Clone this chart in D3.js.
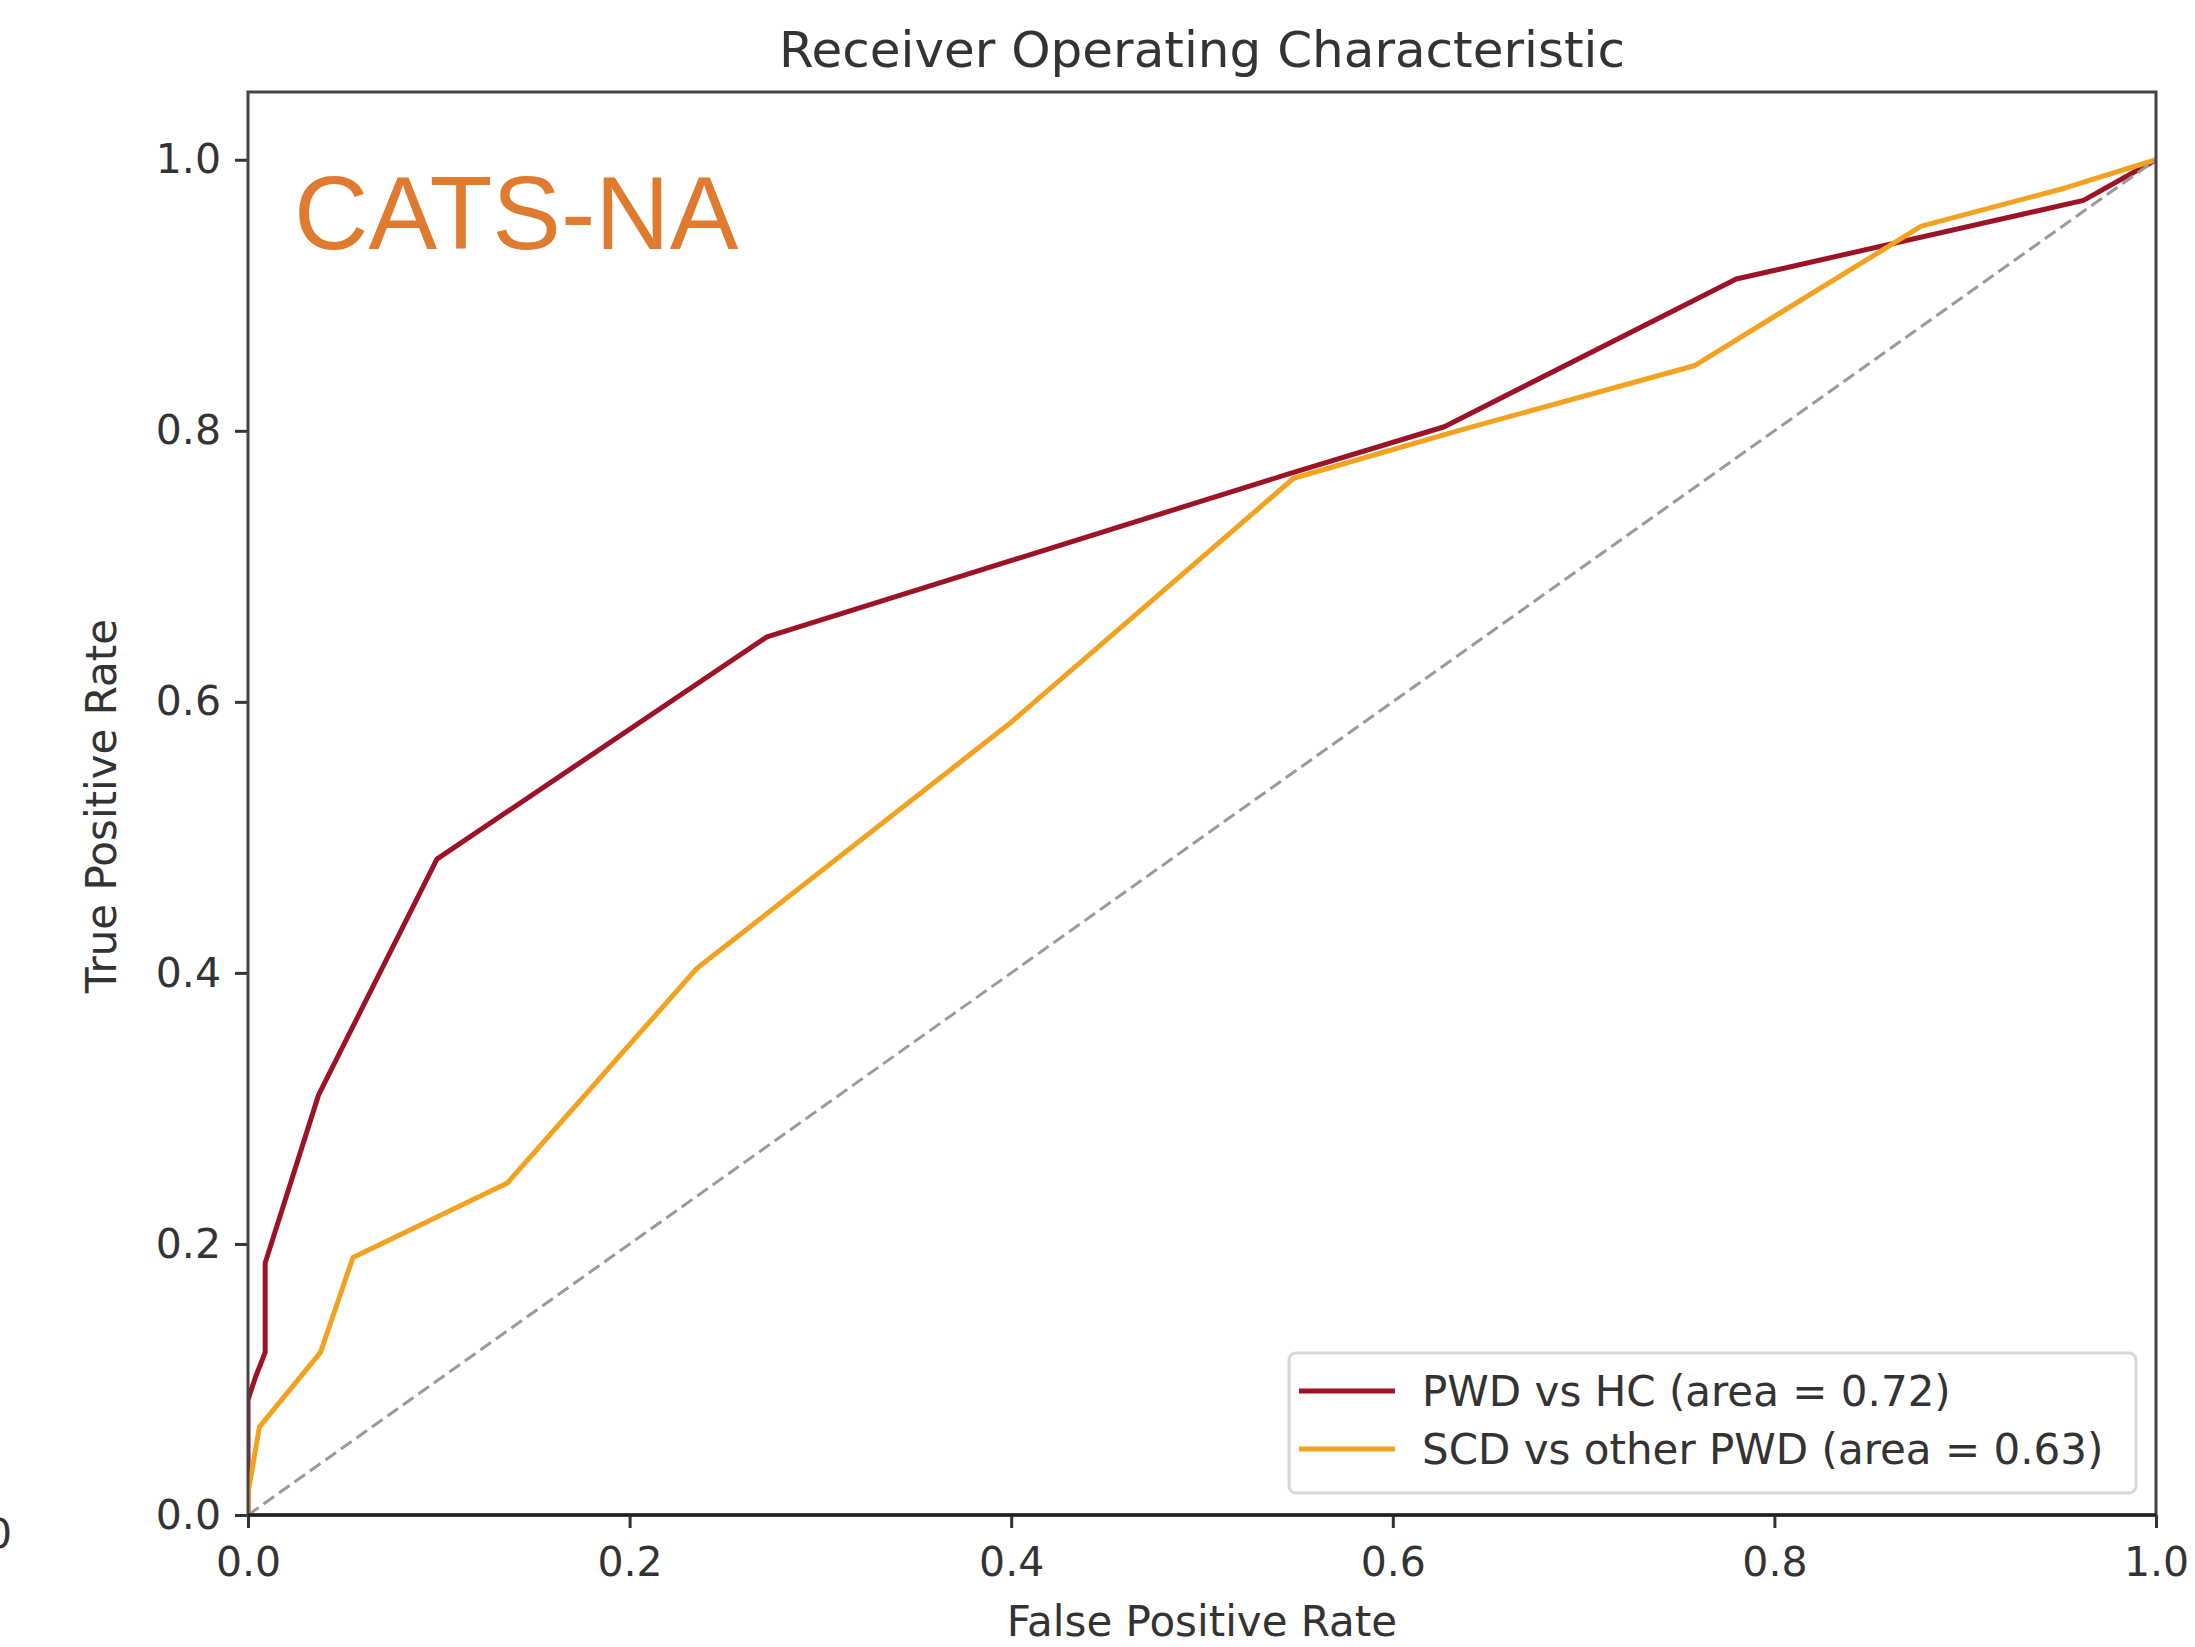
<!DOCTYPE html>
<html>
<head>
<meta charset="utf-8">
<script src="https://cdn.jsdelivr.net/npm/d3@7"></script>
<style>
  html, body { margin: 0; padding: 0; background: #fff; }
  svg { display: block; }
</style>
</head>
<body>
<script>
// ---- data ----
const chartTitle = "Receiver Operating Characteristic";
const xLabel = "False Positive Rate";
const yLabel = "True Positive Rate";
const badge = "CATS-NA";
const xTicks = [0, 0.2, 0.4, 0.6, 0.8, 1.0];
const yTicks = [0, 0.2, 0.4, 0.6, 0.8, 1.0];
const seriesNames = ["PWD vs HC (area = 0.72)", "SCD vs other PWD (area = 0.63)"];
const fprPWD = [0, 0, 0.004, 0.009, 0.009, 0.037, 0.099, 0.272, 0.545, 0.627, 0.78, 0.962, 1];
const tprPWD = [0, 0.085, 0.102, 0.12, 0.186, 0.31, 0.484, 0.648, 0.768, 0.803, 0.912, 0.970, 1];
const fprSCD = [0, 0, 0.006, 0.038, 0.055, 0.136, 0.235, 0.40, 0.548, 0.634, 0.758, 0.877, 0.952, 1];
const tprSCD = [0, 0.016, 0.065, 0.12, 0.19, 0.245, 0.403, 0.585, 0.765, 0.80, 0.848, 0.951, 0.979, 1];
const chanceX = [0, 1];
const chanceY = [0, 1];

// ---- layout ----
const W = 2195, H = 1647;
const L = 248, R = 2156, T = 92, B = 1515;
const colors = ["#9c1328", "#f2a21e"];
const fontMain = "'DejaVu Sans', sans-serif";

const svg = d3.select("body").append("svg").attr("width", W).attr("height", H);
svg.append("rect").attr("width", W).attr("height", H).attr("fill", "#fff");

const x = d3.scaleLinear().domain([0, 1]).range([L, R]);
const y = d3.scaleLinear().domain([0, 1.05]).range([B, T]);

// clip
svg.append("clipPath").attr("id", "plotclip").append("rect")
  .attr("x", L).attr("y", T).attr("width", R - L).attr("height", B - T);

const plot = svg.append("g").attr("clip-path", "url(#plotclip)");
const line = d3.line().x(d => x(d[0])).y(d => y(d[1]));

const series = [d3.zip(fprPWD, tprPWD), d3.zip(fprSCD, tprSCD)];
series.forEach((s, i) => {
  plot.append("path").datum(s).attr("d", line)
    .attr("fill", "none").attr("stroke", colors[i]).attr("stroke-width", 5)
    .attr("stroke-linejoin", "round").attr("stroke-linecap", "butt");
});
plot.append("path").datum(d3.zip(chanceX, chanceY)).attr("d", line)
  .attr("fill", "none").attr("stroke", "#9a9a9a").attr("stroke-width", 3)
  .attr("stroke-dasharray", "13,6");

// axes
const xAxis = d3.axisBottom(x).tickValues(xTicks).tickFormat(d3.format(".1f")).tickSize(13).tickPadding(19);
const yAxis = d3.axisLeft(y).tickValues(yTicks).tickFormat(d3.format(".1f")).tickSize(13).tickPadding(14);

const gx = svg.append("g").attr("transform", `translate(0,${B})`).call(xAxis);
const gy = svg.append("g").attr("transform", `translate(${L},0)`).call(yAxis);
[gx, gy].forEach(g => {
  g.select(".domain").remove();
  g.selectAll(".tick line").attr("stroke", "#333").attr("stroke-width", 3);
  g.selectAll(".tick text").attr("font-family", fontMain).attr("font-size", 41).attr("fill", "#333");
});

// spines
svg.append("rect").attr("x", L).attr("y", T).attr("width", R - L).attr("height", B - T)
  .attr("fill", "none").attr("stroke", "#444").attr("stroke-width", 3);
svg.append("line").attr("x1", L).attr("x2", R).attr("y1", B).attr("y2", B)
  .attr("stroke", "#222").attr("stroke-width", 3.5);

// titles
svg.append("text").attr("x", (L + R) / 2).attr("y", 67).attr("text-anchor", "middle")
  .attr("font-family", fontMain).attr("font-size", 50).attr("fill", "#333").text(chartTitle);
svg.append("text").attr("x", (L + R) / 2).attr("y", 1636).attr("text-anchor", "middle")
  .attr("font-family", fontMain).attr("font-size", 42).attr("fill", "#333").text(xLabel);
svg.append("text").attr("transform", `translate(116,806) rotate(-90)`)
  .attr("text-anchor", "middle")
  .attr("font-family", fontMain).attr("font-size", 42).attr("fill", "#333").text(yLabel);

// cropped leftover label at the very left edge (partly outside the picture in the reference)
svg.append("text").attr("x", 12).attr("y", 1548).attr("text-anchor", "end")
  .attr("font-family", fontMain).attr("font-size", 41).attr("fill", "#333").text("0");

// badge
svg.append("text").attr("x", 294).attr("y", 249)
  .attr("font-family", "'Liberation Sans', Arial, sans-serif").attr("font-size", 103)
  .attr("fill", "#e07a2f").text(badge);

// legend
const lg = svg.append("g");
lg.append("rect").attr("x", 1289).attr("y", 1353).attr("width", 847).attr("height", 140)
  .attr("rx", 7).attr("fill", "#fff").attr("fill-opacity", 0.85)
  .attr("stroke", "#d8d8d8").attr("stroke-width", 3);
seriesNames.forEach((name, i) => {
  const yy = 1391 + i * 58;
  lg.append("line").attr("x1", 1299).attr("x2", 1395).attr("y1", yy).attr("y2", yy)
    .attr("stroke", colors[i]).attr("stroke-width", 5);
  lg.append("text").attr("x", 1422).attr("y", yy).attr("dy", "0.36em")
    .attr("font-family", fontMain).attr("font-size", 42).attr("fill", "#333").text(name);
});
</script>
</body>
</html>
